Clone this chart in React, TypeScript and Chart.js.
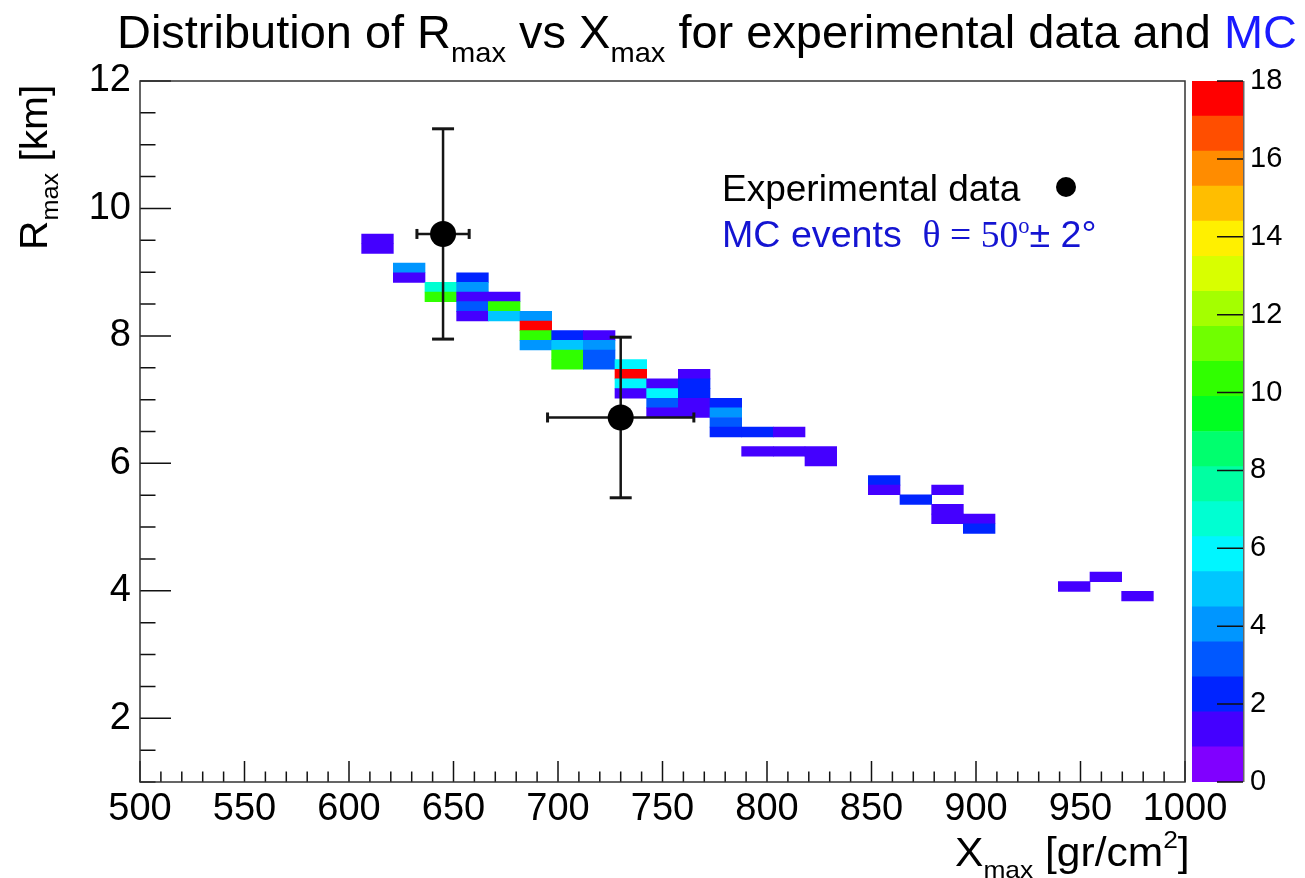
import React, { useEffect, useLayoutEffect, useRef } from 'react';
import { Chart, registerables } from 'chart.js';

Chart.register(...registerables);

const SANS = '"Liberation Sans", Arial, Helvetica, sans-serif';
const SERIF = '"Liberation Serif", "Times New Roman", serif';

// ---- histogram binning (ROOT TH2 style) ----
const X_MIN = 500;
const X_MAX = 1000;
const X_BIN_COUNT = 33;
const Y_MIN = 1;
const Y_MAX = 12;
const Y_BIN_WIDTH = 0.1515;
const Y_BIN_ORIGIN = 0.962;

// ---- MC cells: x bin index, y bin index, entries ----
const cellXBin = [7, 7, 8, 8, 9, 9, 10, 10, 10, 10, 10, 11, 11, 11, 12, 12, 12, 12, 13, 13, 13, 13, 14, 14, 14, 14, 15, 15, 15, 15, 16, 16, 16, 16, 17, 17, 17, 17, 17, 18, 18, 18, 18, 19, 19, 20, 20, 21, 21, 23, 23, 24, 25, 25, 25, 26, 26, 29, 30, 31];
const cellYBin = [55, 56, 53, 52, 51, 50, 52, 51, 50, 49, 48, 50, 49, 48, 48, 47, 46, 45, 46, 45, 44, 43, 46, 45, 44, 43, 43, 42, 41, 40, 41, 40, 39, 38, 42, 41, 40, 39, 38, 39, 38, 37, 36, 36, 34, 36, 34, 34, 33, 31, 30, 29, 30, 28, 27, 27, 26, 20, 21, 19];
const cellCount = [1, 1, 4, 1, 7, 10, 2, 4, 1, 3, 1, 1, 10, 5, 4, 18, 10, 4, 2, 5, 10, 10, 1, 4, 3, 3, 6, 18, 6, 1, 1, 6, 3, 1, 1, 2, 2, 1, 1, 2, 4, 3, 2, 2, 1, 1, 1, 1, 1, 2, 1, 2, 1, 1, 1, 1, 2, 1, 1, 1];

// ---- experimental data ----
const expXmax = [645, 730];
const expXmaxErr = [12.5, 35];
const expRmax = [9.6, 6.72];
const expRmaxErr = [1.65, 1.26];

// ---- axes ----
const xTickValues = [500, 550, 600, 650, 700, 750, 800, 850, 900, 950, 1000];
const yTickValues = [2, 4, 6, 8, 10, 12];
const zTickValues = [0, 2, 4, 6, 8, 10, 12, 14, 16, 18];
const Z_MAX = 18;
const paletteColors = [
  '#8000ff', '#4400ff', '#0024ff', '#0058ff', '#0096ff',
  '#00c6ff', '#00f6ff', '#00ffd2', '#00ffa2', '#00ff6e',
  '#00ff22', '#30ff00', '#70ff00', '#a4ff00', '#d8ff00',
  '#fff000', '#ffbe00', '#ff8c00', '#ff4e00', '#ff0000',
];

const colorFor = (v: number) => {
  const band = Math.floor(v / (Z_MAX / paletteColors.length) + 1e-9);
  return paletteColors[Math.max(0, Math.min(paletteColors.length - 1, band))];
};

const framePlugin = {
  id: 'rootFrame',
  afterDatasetsDraw(chart: any) {
    const { ctx, chartArea: a, scales } = chart;
    const xs = scales.x;
    const ys = scales.y;
    ctx.save();
    ctx.strokeStyle = '#111';
    ctx.lineWidth = 1.5;
    ctx.beginPath();
    for (let k = 0; k <= 50; k++) {
      const v = X_MIN + k * 10;
      const px = xs.getPixelForValue(v);
      const len = k % 5 === 0 ? 21 : 10.5;
      ctx.moveTo(px, a.bottom);
      ctx.lineTo(px, a.bottom - len);
    }
    for (let k = 0; k <= 22; k++) {
      const v = Y_MIN + k * 0.5;
      const py = ys.getPixelForValue(v);
      const len = v % 2 === 0 ? 31 : 15.5;
      ctx.moveTo(a.left, py);
      ctx.lineTo(a.left + len, py);
    }
    ctx.stroke();
    ctx.strokeStyle = '#333';
    ctx.strokeRect(a.left, a.top, a.right - a.left, a.bottom - a.top);
    ctx.restore();
  },
};

const paletteAxisPlugin = {
  id: 'paletteAxis',
  afterDatasetsDraw(chart: any) {
    const { ctx, chartArea: a, scales } = chart;
    ctx.save();
    ctx.strokeStyle = '#111';
    ctx.lineWidth = 1.5;
    ctx.beginPath();
    zTickValues.forEach((v) => {
      const py = scales.y.getPixelForValue(v);
      ctx.moveTo(a.right, py);
      ctx.lineTo(a.right - 26, py);
    });
    ctx.stroke();
    ctx.strokeStyle = '#666';
    ctx.beginPath();
    ctx.moveTo(a.right + 0.75, a.top);
    ctx.lineTo(a.right + 0.75, a.bottom);
    ctx.stroke();
    ctx.restore();
  },
};

type TxtProps = {
  x: number;
  y: number;
  size: number;
  fit?: number;
  rotate?: boolean;
  color?: string;
  family?: string;
  children: React.ReactNode;
};

function Txt({ x, y, size, fit, rotate, color = '#000', family = SANS, children }: TxtProps) {
  const ref = useRef<HTMLDivElement>(null);
  useLayoutEffect(() => {
    const el = ref.current;
    if (!el) return;
    const w = el.offsetWidth;
    const s = fit && w > 0 ? fit / w : 1;
    el.style.transform = rotate ? `rotate(-90deg) scaleX(${s})` : `scaleX(${s})`;
  }, [fit, rotate]);
  const top = rotate ? y : y - 0.8465 * size;
  return (
    <div
      ref={ref}
      style={{
        position: 'absolute',
        left: x,
        top,
        fontSize: size,
        lineHeight: 1,
        fontFamily: family,
        color,
        whiteSpace: 'pre',
        transformOrigin: 'left top',
      }}
    >
      {children}
    </div>
  );
}

const Sub = ({ children }: { children: React.ReactNode }) => (
  <span style={{ fontSize: '0.62em', position: 'relative', top: '0.48em' }}>{children}</span>
);
const Sup = ({ children }: { children: React.ReactNode }) => (
  <span style={{ fontSize: '0.62em', position: 'relative', top: '-0.75em' }}>{children}</span>
);

export default function App() {
  const mainRef = useRef<HTMLCanvasElement>(null);
  const paletteRef = useRef<HTMLCanvasElement>(null);

  useEffect(() => {
    if (!mainRef.current || !paletteRef.current) return;
    const binW = (X_MAX - X_MIN) / X_BIN_COUNT;
    const cells = cellXBin.map((b, i) => ({
      x: X_MIN + (b + 0.5) * binW,
      y: [Y_BIN_ORIGIN + cellYBin[i] * Y_BIN_WIDTH, Y_BIN_ORIGIN + (cellYBin[i] + 1) * Y_BIN_WIDTH],
    }));
    const cellColors = cellCount.map(colorFor);

    const errorSets: any[] = [];
    expXmax.forEach((xv, i) => {
      errorSets.push({
        type: 'line',
        data: [
          { x: xv, y: expRmax[i] - expRmaxErr[i] },
          { x: xv, y: expRmax[i] + expRmaxErr[i] },
        ],
        borderColor: '#151515',
        borderWidth: 2.5,
        pointStyle: 'line',
        pointRadius: 11,
        pointRotation: 0,
        pointBorderColor: '#151515',
        pointBorderWidth: 3,
        fill: false,
        order: 1,
      });
      errorSets.push({
        type: 'line',
        data: [
          { x: xv - expXmaxErr[i], y: expRmax[i] },
          { x: xv + expXmaxErr[i], y: expRmax[i] },
        ],
        borderColor: '#151515',
        borderWidth: 2.5,
        pointStyle: 'line',
        pointRadius: 5,
        pointRotation: 90,
        pointBorderColor: '#151515',
        pointBorderWidth: 3,
        fill: false,
        order: 1,
      });
    });

    const main = new Chart(mainRef.current, {
      type: 'bar',
      data: {
        datasets: [
          {
            type: 'scatter',
            data: expXmax.map((xv, i) => ({ x: xv, y: expRmax[i] })),
            pointRadius: 13,
            pointBackgroundColor: '#000',
            pointBorderWidth: 0,
            order: 0,
          } as any,
          ...errorSets,
          {
            type: 'bar',
            data: cells as any,
            backgroundColor: cellColors,
            borderWidth: 0,
            barPercentage: 1,
            categoryPercentage: 1,
            order: 2,
          },
        ],
      },
      options: {
        responsive: false,
        animation: false,
        events: [],
        layout: { padding: { top: 81, right: 120, left: 0, bottom: 0 } },
        plugins: { legend: { display: false }, tooltip: { enabled: false }, title: { display: false } },
        scales: {
          x: {
            type: 'linear',
            min: X_MIN,
            max: X_MAX,
            offset: false,
            grid: { display: false, drawTicks: false, offset: false },
            border: { display: false },
            afterBuildTicks: (axis: any) => {
              axis.ticks = xTickValues.map((v) => ({ value: v }));
            },
            afterFit: (axis: any) => {
              axis.height = 96;
            },
            ticks: {
              autoSkip: false,
              maxRotation: 0,
              padding: 5,
              color: '#000',
              font: { family: SANS, size: 38 },
              callback: (v: any) => String(v),
            },
          },
          y: {
            type: 'linear',
            min: Y_MIN,
            max: Y_MAX,
            grid: { display: false, drawTicks: false },
            border: { display: false },
            afterBuildTicks: (axis: any) => {
              axis.ticks = yTickValues.map((v) => ({ value: v }));
            },
            afterFit: (axis: any) => {
              axis.width = 140;
            },
            ticks: {
              autoSkip: false,
              padding: 9,
              color: '#000',
              font: { family: SANS, size: 38 },
              callback: (v: any) => String(v),
            },
          },
        },
      } as any,
      plugins: [framePlugin],
    });

    const palette = new Chart(paletteRef.current, {
      type: 'bar',
      data: {
        labels: [''],
        datasets: paletteColors.map((c) => ({
          data: [Z_MAX / paletteColors.length],
          backgroundColor: c,
          borderWidth: 0,
          barPercentage: 1,
          categoryPercentage: 1,
        })),
      },
      options: {
        responsive: false,
        animation: false,
        events: [],
        layout: { padding: { top: 81, bottom: 96, left: 2, right: 0 } },
        plugins: { legend: { display: false }, tooltip: { enabled: false } },
        scales: {
          x: { display: false, stacked: true },
          y: {
            stacked: true,
            position: 'right',
            min: 0,
            max: Z_MAX,
            grid: { display: false, drawTicks: false },
            border: { display: false },
            afterBuildTicks: (axis: any) => {
              axis.ticks = zTickValues.map((v) => ({ value: v }));
            },
            afterFit: (axis: any) => {
              axis.width = 62;
            },
            ticks: {
              autoSkip: false,
              padding: 7,
              color: '#000',
              font: { family: SANS, size: 29 },
              callback: (v: any) => String(v),
            },
          },
        },
      } as any,
      plugins: [paletteAxisPlugin],
    });

    return () => {
      main.destroy();
      palette.destroy();
    };
  }, []);

  return (
    <div
      style={{
        position: 'absolute',
        left: 0,
        top: 0,
        width: 1305,
        height: 878,
        overflow: 'hidden',
        background: '#fff',
      }}
    >
      <canvas ref={mainRef} width={1305} height={878} style={{ position: 'absolute', left: 0, top: 0 }} />
      <canvas ref={paletteRef} width={115} height={878} style={{ position: 'absolute', left: 1190, top: 0 }} />

      <Txt x={117} y={48} size={46} fit={1180}>
        Distribution of R<Sub>max</Sub> vs X<Sub>max</Sub> for experimental data and{' '}
        <span style={{ color: '#1a1aff' }}>MC</span>
      </Txt>

      <Txt x={15} y={250} size={38} fit={165} rotate>
        R<Sub>max</Sub> [km]
      </Txt>

      <Txt x={955} y={866} size={40} fit={235}>
        X<Sub>max</Sub> [gr/cm<Sup>2</Sup>]
      </Txt>

      <Txt x={722} y={201} size={37}>
        Experimental data
      </Txt>
      <div
        style={{
          position: 'absolute',
          left: 1056,
          top: 177,
          width: 20,
          height: 20,
          borderRadius: '50%',
          background: '#000',
        }}
      />
      <Txt x={722} y={247} size={37} fit={375} color="#1414d2">
        MC events{'  '}
        <span style={{ fontFamily: SERIF }}>
          θ = 50<span style={{ fontSize: '0.6em', position: 'relative', top: '-0.6em' }}>o</span>
        </span>
        ± 2°
      </Txt>
    </div>
  );
}
